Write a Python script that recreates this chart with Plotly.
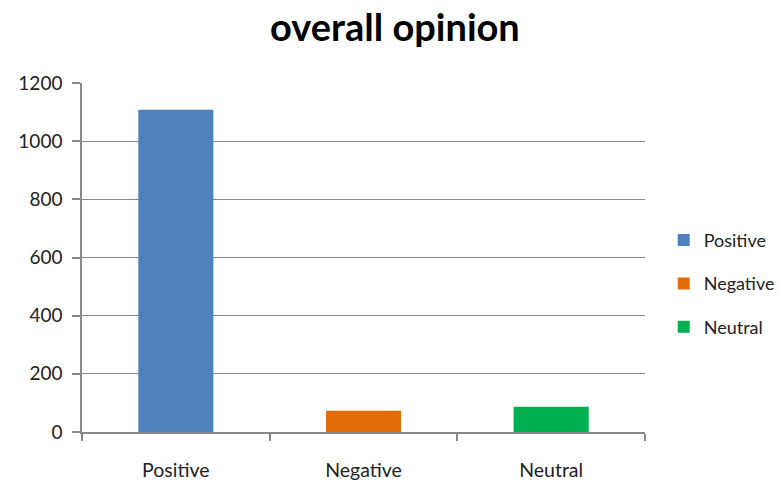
import plotly.graph_objects as go

categories = ["Positive", "Negative", "Neutral"]
values = [1108, 73, 87]
colors = ["#4F81BD", "#E46C0A", "#00B050"]
y_ticks = [0, 200, 400, 600, 800, 1000, 1200]

fig = go.Figure()
for cat, val, col in zip(categories, values, colors):
    fig.add_trace(go.Bar(
        x=[cat], y=[val], name=cat, marker=dict(color=col, line=dict(width=0)),
        legendgroup=cat, offsetgroup="a",
    ))

font_family = "Lato, 'Open Sans', sans-serif"
fig.update_layout(
    width=779, height=481,
    margin=dict(l=82, r=134, t=83, b=49, autoexpand=False),
    paper_bgcolor="white", plot_bgcolor="white",
    title=dict(text="<b>overall opinion</b>", x=0.507, xanchor="center", y=0.942, yanchor="middle",
               font=dict(family=font_family, size=38, color="black")),
    bargap=0.6,
    showlegend=True,
    legend=dict(xref="container", yref="container", x=0.852, xanchor="left", y=0.41, yanchor="middle",
                font=dict(family=font_family, size=18, color="#222"),
                tracegroupgap=17, itemwidth=30, bgcolor="rgba(0,0,0,0)"),
    font=dict(family=font_family, size=19, color="#222"),
)
fig.update_xaxes(
    categoryorder="array", categoryarray=categories, automargin=False,
    showline=True, linecolor="#888", linewidth=1.5,
    ticks="outside", tickson="boundaries", ticklen=7, tickcolor="#888", tickwidth=1.5,
    ticklabelstandoff=20, tickfont=dict(size=19.5), showgrid=False,
)
fig.update_yaxes(
    range=[0, 1200], tickvals=y_ticks, ticktext=[str(v) for v in y_ticks], automargin=False,
    showline=True, linecolor="#888", linewidth=1.5,
    ticks="outside", ticklen=8, tickcolor="#888", tickwidth=1.5,
    showgrid=True, gridcolor="#888", gridwidth=1.2, zeroline=False,
    ticklabelstandoff=6, tickfont=dict(size=19),
)
fig.write_html("out.html")
